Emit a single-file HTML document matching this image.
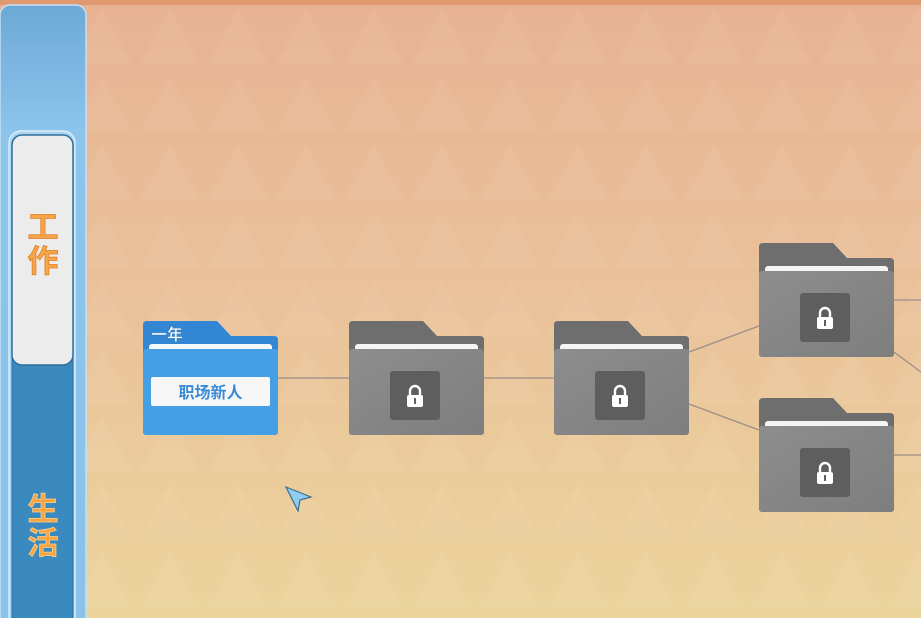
<!DOCTYPE html>
<html><head><meta charset="utf-8"><style>
html,body{margin:0;padding:0;width:921px;height:618px;overflow:hidden;}
body{font-family:"Liberation Sans","Noto Sans CJK SC",sans-serif;}
</style></head><body>
<svg width="921" height="618" viewBox="0 0 921 618" xmlns="http://www.w3.org/2000/svg">
<defs>
<linearGradient id="bg" x1="0" y1="0" x2="0" y2="1">
<stop offset="0" stop-color="#e8b292"/><stop offset="0.5" stop-color="#eac29a"/><stop offset="1" stop-color="#ebd49c"/>
</linearGradient>
<linearGradient id="side" x1="0" y1="0" x2="0" y2="1">
<stop offset="0" stop-color="#6ea9d6"/><stop offset="0.2" stop-color="#8cc4ec"/><stop offset="1" stop-color="#8ac2ea"/>
</linearGradient>
<linearGradient id="gf" x1="0" y1="0" x2="1" y2="1">
<stop offset="0" stop-color="#8d8d8d"/><stop offset="1" stop-color="#7e7e7e"/>
</linearGradient>
<pattern id="tri" x="0" y="0" width="68" height="68" patternUnits="userSpaceOnUse">
<polygon points="34,8 64,64 4,64" fill="#ffffff" opacity="0.05"/>
</pattern>
<g id="gfold">
<path d="M0,4 q0,-4 4,-4 H74 L88,15 H131 q4,0 4,4 V110 q0,4 -4,4 H4 q-4,0 -4,-4 Z" fill="#6e6e6e"/>
<rect x="6" y="23" width="123" height="9" rx="3" fill="#f4f4f4"/>
<rect x="0" y="28" width="135" height="86" rx="3" fill="url(#gf)"/>
<rect x="41" y="50" width="50" height="49" rx="3" fill="#5e5e5e"/>
<path d="M61,75 v-5 a5,5 0 0 1 10,0 v5" fill="none" stroke="#fff" stroke-width="2.4"/>
<rect x="58" y="74" width="16" height="12" rx="2" fill="#fff"/>
<rect x="65" y="77" width="2" height="6" fill="#5e5e5e"/>
</g>
</defs>
<rect width="921" height="618" fill="url(#bg)"/>
<rect width="921" height="618" fill="url(#tri)"/>
<rect width="921" height="5" fill="#e0986e"/>
<g stroke="#9b8e88" stroke-width="1.3" fill="none">
<line x1="278" y1="378" x2="349" y2="378"/>
<line x1="484" y1="378" x2="554" y2="378"/>
<line x1="689" y1="352" x2="759" y2="326"/>
<line x1="689" y1="404" x2="759" y2="430"/>
<line x1="894" y1="300" x2="921" y2="300"/>
<line x1="894" y1="352" x2="921" y2="372"/>
<line x1="894" y1="455" x2="921" y2="455"/>
</g>
<rect x="0" y="5" width="86" height="640" rx="10" fill="url(#side)" stroke="#c4e0f4" stroke-width="1.5"/>
<rect x="9" y="131" width="66" height="500" rx="12" fill="#a9d3f2" stroke="#d8ecfa" stroke-width="1.5"/>
<rect x="12" y="300" width="61" height="330" fill="#3a89bf" stroke="#2c6f9f" stroke-width="1"/>
<rect x="12" y="135" width="61" height="230" rx="10" fill="#ececec" stroke="#2e6f9a" stroke-width="1.5"/>
<g font-size="31" font-weight="bold" fill="#f6a64a" stroke="#e07f22" stroke-width="0.8" text-anchor="middle" font-family="Liberation Sans,Noto Sans CJK SC,sans-serif">
<text x="43" y="238">工</text><text x="43" y="272">作</text>
<text x="43" y="520" fill="#f7a542" stroke="#fbd090">生</text><text x="43" y="554" fill="#f7a542" stroke="#fbd090">活</text>
</g>
<g transform="translate(143,321)">
<path d="M0,4 q0,-4 4,-4 H74 L88,15 H131 q4,0 4,4 V110 q0,4 -4,4 H4 q-4,0 -4,-4 Z" fill="#3386d4"/>
<rect x="6" y="23" width="123" height="9" rx="3" fill="#f4f8fc"/>
<rect x="0" y="28" width="135" height="86" rx="3" fill="#449fe5"/>
<rect x="8" y="56" width="119" height="29" rx="2" fill="#f7f7f7"/>
<text x="67.5" y="77" font-size="16" font-weight="bold" fill="#3a8ad6" text-anchor="middle" font-family="Liberation Sans,Noto Sans CJK SC,sans-serif">职场新人</text>
<text x="8" y="19" font-size="16" font-weight="bold" fill="#fff" stroke="#2a70b0" stroke-width="0.4" font-family="Liberation Sans,Noto Sans CJK SC,sans-serif">一年</text>
</g>
<use href="#gfold" transform="translate(349,321)"/>
<use href="#gfold" transform="translate(554,321)"/>
<use href="#gfold" transform="translate(759,243)"/>
<use href="#gfold" transform="translate(759,398)"/>
<path d="M286,487 L311,497 L300,500 L298,511 Z" fill="#8ecdf0" stroke="#3c6f8f" stroke-width="1.2"/>
</svg>
</body></html>
